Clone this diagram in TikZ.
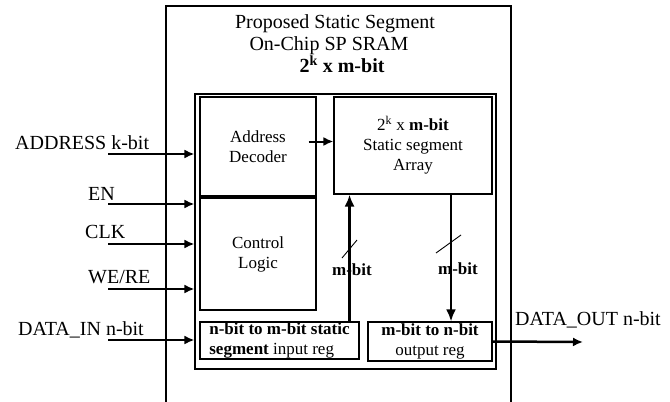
\documentclass[tikz,border=0pt]{standalone}
\usepackage{fontspec}
\setmainfont{Liberation Serif}
\usetikzlibrary{arrows.meta}

\begin{document}
\begin{tikzpicture}[
  x=1pt, y=-1pt,
  blk/.style={draw, line width=1.1pt, inner sep=0pt, align=center, font=\fontsize{17}{20}\selectfont},
  lbl/.style={anchor=base west, inner sep=0pt, font=\fontsize{20}{22}\selectfont},
  bitlbl/.style={inner sep=0pt, font=\fontsize{17}{20}\selectfont\bfseries},
  sig/.style={-{Latex[length=10pt,width=9pt]}, line width=2.5pt},
  bus/.style={-{Latex[length=12pt,width=10pt]}, line width=2.8pt},
  tick/.style={line width=0.9pt}
]
\useasboundingbox (0,0) rectangle (670,402);

% outer chip outline, open at the bottom
\draw[line width=1.3pt] (166,402) -- (166,6) -- (511,6) -- (511,402);
\node[anchor=north, inner sep=0pt, align=center, font=\fontsize{20}{22}\selectfont] (ttl) at (335,14.5)
  {Proposed Static Segment\\\hspace*{-12pt}On-Chip SP SRAM\\\hspace*{14pt}\textbf{2\textsuperscript{k} x m-bit}};

% core and its blocks
\node[blk, minimum width=301pt, minimum height=275pt] (core) at (345.5,231.5) {};
\node[blk, minimum width=116pt, minimum height=99pt] (dec) at (258,146.5) {Address\\Decoder};
\node[blk, minimum width=116pt, minimum height=112pt] (ctrl) at (258,254) {Control\\Logic};
\node[blk, minimum width=158pt, minimum height=97pt] (arr) at (413,145.5)
  {2\textsuperscript{k} x \textbf{m-bit}\\Static segment\\Array};
\node[blk, minimum width=159pt, minimum height=37pt, align=left] (inreg) at (279.5,340.5)
  {\textbf{n-bit to m-bit static}\\\textbf{segment} input reg};
\node[blk, minimum width=124pt, minimum height=39pt] (outreg) at (430,341.5)
  {\textbf{m-bit to n-bit}\\output reg};

% pin labels
\node[lbl] (addrlbl) at (15,149) {ADDRESS k-bit};
\node[lbl] (enlbl) at (88,200) {EN};
\node[lbl] (clklbl) at (85,238) {CLK};
\node[lbl] (welbl) at (88,283) {WE/RE};
\node[lbl] (dinlbl) at (18,335) {DATA\_IN n-bit};
\node[lbl] (doutlbl) at (515,325) {DATA\_OUT n-bit};

% input pins
\coordinate (addrin) at (108,154);
\coordinate (enin) at (108,204);
\coordinate (clkin) at (108,244);
\coordinate (wein) at (108,289);
\coordinate (dinin) at (108,340);
\draw[sig] (addrin) -- (addrin -| core.west);
\draw[sig] (enin) -- (enin -| core.west);
\draw[sig] (clkin) -- (clkin -| core.west);
\draw[sig] (wein) -- (wein -| core.west);
\draw[sig] (dinin) -- (dinin -| core.west);

% decoder to array
\coordinate (d0) at ([xshift=-8pt,yshift=5pt]dec.east);
\draw[sig, line width=2pt] (d0) -- (d0 -| arr.west);

% m-bit buses
\node[bitlbl] (upbit) at (352,270) {m-bit};
\node[bitlbl] (dnbit) at (458,269) {m-bit};
\coordinate (upfoot) at ([xshift=-10pt]inreg.north east);
\coordinate (dntop) at ([xshift=38pt]arr.south);
\draw[bus] (upfoot) -- (upfoot |- arr.south);
\draw[bus] (dntop) -- (dntop |- outreg.north);
\draw[tick] (342,258) -- (357,240);
\draw[tick] (436,253) -- (461,235);

% data out
\coordinate (dout) at (583,342);
\draw[sig] (outreg.east) -- (dout);
\end{tikzpicture}
\end{document}
